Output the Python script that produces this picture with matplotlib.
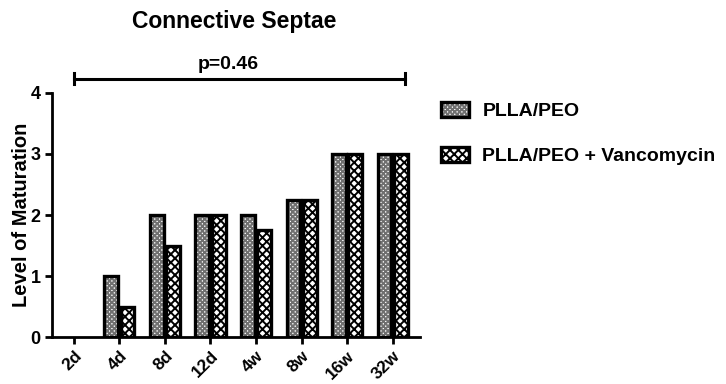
import numpy as np
import matplotlib.pyplot as plt
from matplotlib.patches import Patch

plt.rcParams['font.family'] = ['Liberation Sans', 'DejaVu Sans']
plt.rcParams['hatch.linewidth'] = 1.4

# data
timepoints = ['2d', '4d', '8d', '12d', '4w', '8w', '16w', '32w']
plla_peo = [0, 1, 2, 2, 2, 2.25, 3, 3]
plla_peo_vanc = [0, 0.5, 1.5, 2, 1.75, 2.25, 3, 3]
p_text = 'p=0.46'

fig = plt.figure(figsize=(7.26, 3.84), dpi=100)
ax = fig.add_axes([0.0716, 0.122, 0.5069, 0.636])

x = np.arange(len(timepoints))
w = 0.3
# first series: fine grey hatch, drawn then outlined in black
ax.bar(x - 0.18, plla_peo, width=w, facecolor='white', edgecolor='#707070',
       linewidth=0, hatch='xxxxxxx')
bars1 = ax.bar(x - 0.18, plla_peo, width=w, fill=False, edgecolor='black',
               linewidth=2.4)
# second series: coarse black/white checker
bars2 = ax.bar(x + 0.18, plla_peo_vanc, width=w, facecolor='white',
               edgecolor='black', linewidth=2.4, hatch='xxxx')

# zero-height bars leave no outline on the baseline
for b in list(bars1) + list(bars2):
    if b.get_height() == 0:
        b.set_linewidth(0)

ax.set_xlim(-0.48, 7.6)
ax.set_ylim(0, 4)
ax.set_yticks([0, 1, 2, 3, 4])
ax.set_xticks(x)
ax.set_xticklabels(timepoints, rotation=45, ha='right', rotation_mode='anchor',
                   fontsize=12.5, fontweight='bold')
for lab in ax.get_yticklabels():
    lab.set_fontsize(13)
    lab.set_fontweight('bold')
ax.tick_params(axis='both', width=2, length=5, direction='out', pad=3)
ax.spines['top'].set_visible(False)
ax.spines['right'].set_visible(False)
ax.spines['left'].set_linewidth(2)
ax.spines['bottom'].set_linewidth(2)
ax.set_ylabel('Level of Maturation', fontsize=14.5, fontweight='bold', labelpad=0)

# significance bracket
ax.plot([0, 7.28], [4.23, 4.23], color='black', lw=2.2, clip_on=False)
for xe in [0, 7.28]:
    ax.plot([xe, xe], [4.14, 4.32], color='black', lw=2.2, clip_on=False)
ax.text(3.38, 4.33, p_text, ha='center', va='bottom', fontsize=14,
        fontweight='bold')

fig.text(0.322, 0.945, 'Connective Septae', ha='center', va='center',
         fontsize=16.5, fontweight='bold')

h1 = Patch(facecolor='white', edgecolor='#707070', hatch='xxxxxxx', linewidth=0)
h1b = Patch(fill=False, edgecolor='black', linewidth=2.4)
h2 = Patch(facecolor='white', edgecolor='black', hatch='xxxx', linewidth=2.4)
fig.legend(handles=[(h1, h1b), h2], labels=['PLLA/PEO', 'PLLA/PEO + Vancomycin'],
           loc='upper left', bbox_to_anchor=(0.607, 0.735), frameon=False,
           prop={'weight': 'bold', 'size': 14}, borderpad=0, borderaxespad=0,
           handlelength=1.45, handleheight=0.8, handletextpad=0.7,
           labelspacing=1.4)

fig.savefig('out.png', dpi=100)
